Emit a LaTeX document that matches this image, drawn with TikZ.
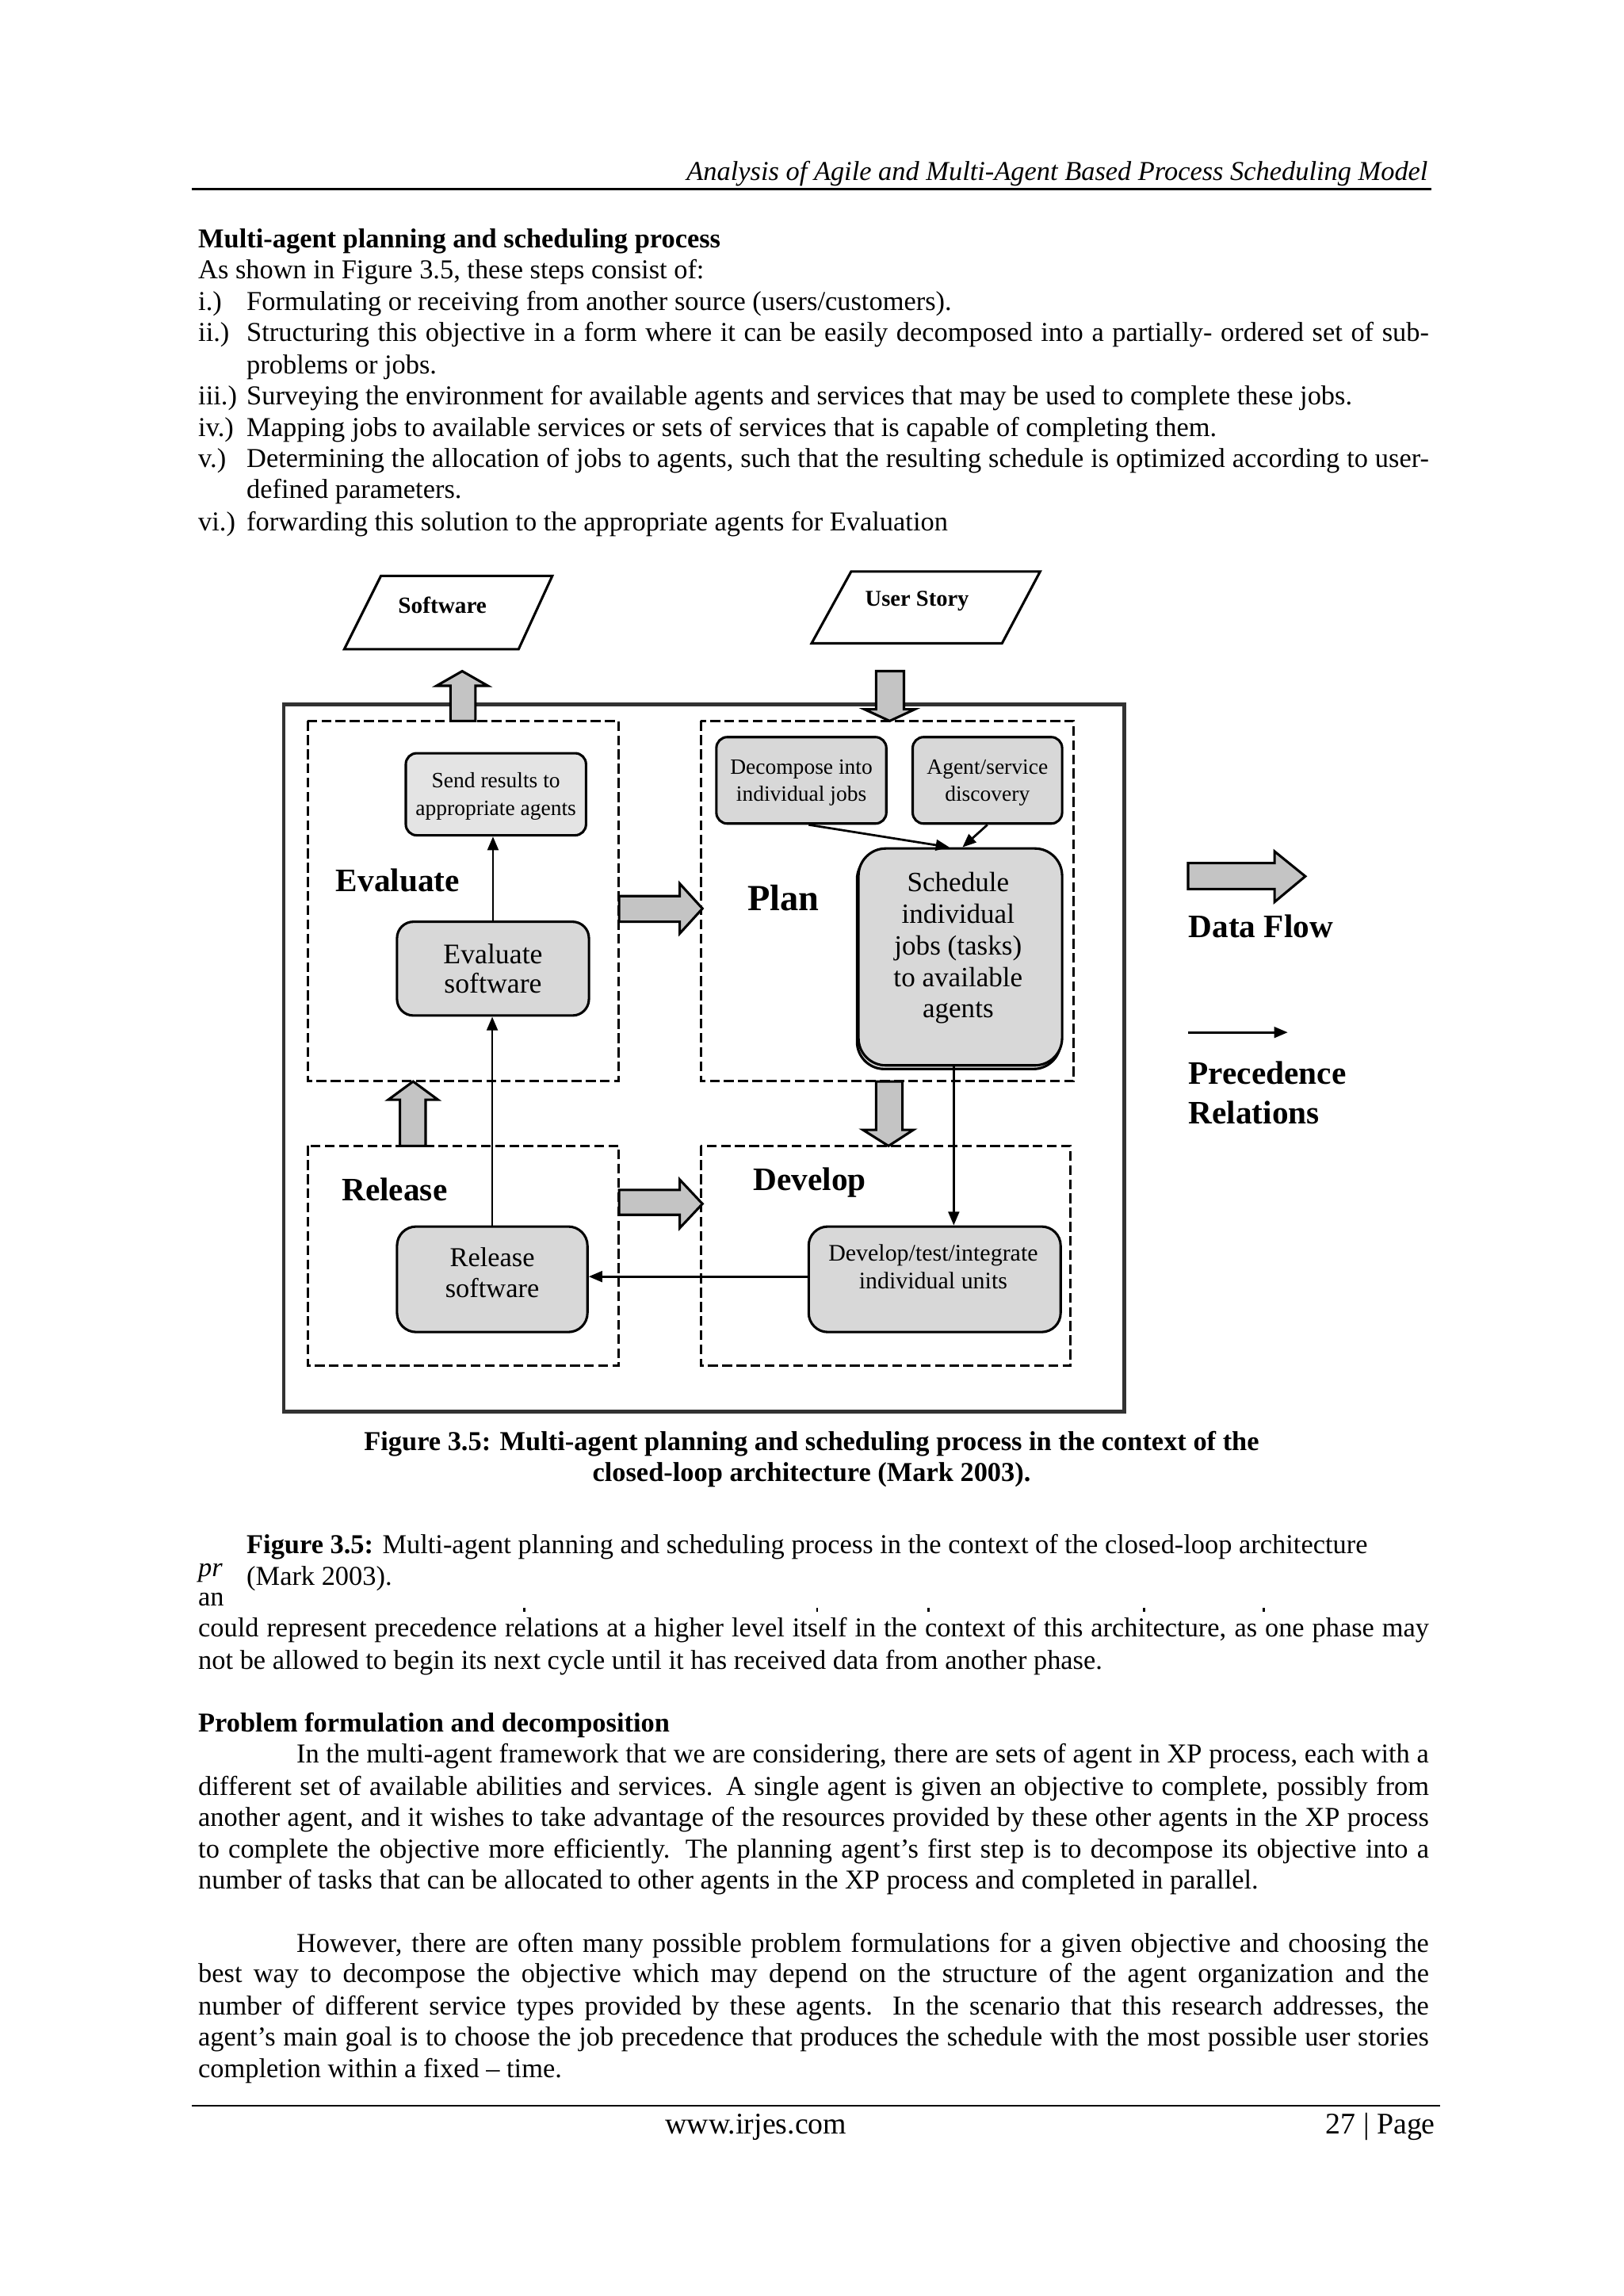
\documentclass[tikz,border=0pt]{standalone}
\usepackage{fontspec}
\setmainfont{Liberation Serif}
\usetikzlibrary{arrows.meta}
\newlength\pxu \setlength\pxu{0.5373pt}
\newcommand\jline[2]{\makebox[#1\pxu][s]{#2}}
\definecolor{boxgray}{RGB}{216,216,216}
\definecolor{boxlight}{RGB}{228,228,228}
\definecolor{arrgray}{RGB}{196,196,196}
\definecolor{framegray}{RGB}{50,50,50}
\begin{document}
\begin{tikzpicture}[x=0.5373pt,y=-0.5373pt,
  txt/.style={anchor=base west,inner sep=0pt,font=\fontsize{10}{11.5}\selectfont},
  txtb/.style={txt,font=\bfseries\fontsize{10}{11.5}\selectfont},
  pbox/.style={draw=black,line width=0.9pt,fill=boxgray,rounded corners=4pt,inner sep=0pt},
  dbox/.style={draw=black,line width=0.9pt,dash pattern=on 3.6pt off 1.6pt},
  barrow/.style={draw=black,line width=0.9pt,fill=arrgray,line join=miter},
  prec/.style={line width=0.8pt,-{Triangle[length=5pt,width=4pt]}},
  phase/.style={anchor=west,inner sep=0pt,font=\bfseries\fontsize{12}{14}\selectfont},
  boxtxt/.style={align=center,inner sep=0pt}]
\useasboundingbox[fill=white] (0,0) rectangle (1108,1566.8);

% ---------- header ----------
\node[anchor=base east,inner sep=0pt,font=\itshape\fontsize{10}{12}\selectfont] (hdr) at (975,123) {Analysis of Agile and Multi-Agent Based Process Scheduling Model};
\draw[line width=0.8pt] (131,129) -- (977,129);

% ---------- list ----------
\node[txtb] (t0) at (135,169) {Multi-agent planning and scheduling process};
\node[txt] (t1) at (135,190) {As shown in Figure 3.5, these steps consist of:};
\node[txt] (n1) at (135,212) {i.)};
\node[txt] (s1) at (168,212) {Formulating or receiving from another source (users/customers).};
\node[txt] (n2) at (135,233) {ii.)};
\node[txt] (s2) at (168,233) {\jline{807}{Structuring this objective in a form where it can be easily decomposed into a partially- ordered set of sub-}};
\node[txt] (s2b) at (168,255) {problems or jobs.};
\node[txt] (n3) at (135,276) {iii.)};
\node[txt] (s3) at (168,276) {Surveying the environment for available agents and services that may be used to complete these jobs.};
\node[txt] (n4) at (135,298) {iv.)};
\node[txt] (s4) at (168,298) {Mapping jobs to available services or sets of services that is capable of completing them.};
\node[txt] (n5) at (135,319) {v.)};
\node[txt] (s5) at (168,319) {\jline{807}{Determining the allocation of jobs to agents, such that the resulting schedule is optimized according to user-}};
\node[txt] (s5b) at (168,340) {defined parameters.};
\node[txt] (n6) at (135,362) {vi.)};
\node[txt] (s6) at (168,362) {forwarding this solution to the appropriate agents for Evaluation};

% ---------- diagram ----------
% inputs / outputs
\draw[line width=0.9pt] (260,393) -- (377,393) -- (354,443) -- (235,443) -- cycle;
\node[font=\bfseries\fontsize{8.5}{10}\selectfont,inner sep=0pt] (sw) at (302,413) {Software};
\draw[line width=0.9pt] (581,390) -- (710,390) -- (684,439) -- (554,439) -- cycle;
\node[font=\bfseries\fontsize{8.3}{10}\selectfont,inner sep=0pt] (us) at (626,410) {User Story};

% main frame
\draw[line width=1.4pt,draw=framegray] (193.7,480.6) rectangle (767.5,963.5);

% phase regions
\draw[dbox] (210,492) rectangle (422.5,737.6);
\draw[dbox] (478.5,492) rectangle (733,737.6);
\draw[dbox] (210,782) rectangle (422.5,932);
\draw[dbox] (478.5,782) rectangle (730.6,932);

\node[phase] (levaluate) at (229,601) {Evaluate};
\node[phase,font=\bfseries\fontsize{13.5}{15}\selectfont] (lplan) at (510,613) {Plan};
\node[phase] (lrelease) at (233,812) {Release};
\node[phase] (ldevelop) at (514,807) {Develop};

% process boxes
\node[pbox,fill=boxlight,minimum width=123\pxu,minimum height=56\pxu] (send) at (338.5,542) {};
\node[boxtxt,font=\fontsize{8}{10}\selectfont] (sendt) at (338.5,543.5) {Send results to\\appropriate agents};

\node[pbox,rounded corners=6pt,minimum width=131\pxu,minimum height=64\pxu] (evalsw) at (336.5,661) {};
\node[boxtxt,font=\fontsize{10.4}{11}\selectfont] (evalswt) at (336.5,661) {Evaluate\\software};

\node[pbox,minimum width=116\pxu,minimum height=59\pxu] (decomp) at (547,532.5) {};
\node[boxtxt,font=\fontsize{8}{9.8}\selectfont] (decompt) at (547,534) {Decompose into\\individual jobs};

\node[pbox,minimum width=102\pxu,minimum height=59\pxu] (agsvc) at (674,532.5) {};
\node[boxtxt,font=\fontsize{8}{9.8}\selectfont] (agsvct) at (674,534) {Agent/service\\discovery};

\draw[line width=0.9pt,fill=boxgray,rounded corners=10pt] (585,581.5) rectangle (724,729.5);
\node[pbox,rounded corners=10pt,minimum width=139\pxu,minimum height=148\pxu] (sched) at (655.5,653) {};
\node[boxtxt,font=\fontsize{10.2}{11.55}\selectfont] (schedt) at (654,647) {Schedule\\individual\\jobs (tasks)\\to available\\agents};

\node[pbox,rounded corners=7pt,minimum width=130\pxu,minimum height=72\pxu] (relsw) at (336,873) {};
\node[boxtxt,font=\fontsize{10}{11.3}\selectfont] (relswt) at (336,868.5) {Release\\software};

\node[pbox,rounded corners=7pt,minimum width=172\pxu,minimum height=72\pxu] (dev) at (638,873) {};
\node[boxtxt,font=\fontsize{8.7}{10.2}\selectfont] (devt) at (637,864.5) {Develop/test/integrate\\individual units};

% precedence relations
\draw[prec] (evalsw.north) -- (evalsw.north |- send.south);
\draw[prec] (relsw.north) -- (relsw.north |- evalsw.south);
\draw[prec] ([yshift=1pt]dev.west) -- ([yshift=1pt]dev.west -| relsw.east);
\draw[prec] ([xshift=-2.4pt]sched.south) -- ([xshift=-2.4pt]sched.south |- dev.north);
\draw[prec] ([xshift=2.7pt]decomp.south) -- ([xshift=-4pt]sched.north);
\draw[prec] (agsvc.south) -- ([xshift=0.8pt]sched.north);

% data flow arrows
\draw[barrow] (307.5,492) -- (307.5,468) -- (298,468) -- (315.5,458) -- (333,468) -- (324.5,468) -- (324.5,492) -- cycle;
\draw[barrow] (598,458) -- (617,458) -- (617,484) -- (624.5,484) -- (607.3,492) -- (590,484) -- (598,484) -- cycle;
\draw[barrow] (422.6,611.5) -- (464,611.5) -- (464,603) -- (479.5,620) -- (464,637) -- (464,629) -- (422.6,629) -- cycle;
\draw[barrow] (273,782) -- (273,750.5) -- (265,750.5) -- (282,738) -- (299,750.5) -- (290.5,750.5) -- (290.5,782) -- cycle;
\draw[barrow] (598,738) -- (616,738) -- (616,771) -- (623.5,771) -- (606.5,782) -- (589,771) -- (598,771) -- cycle;
\draw[barrow] (422.6,812) -- (464,812) -- (464,805) -- (479.5,821.5) -- (464,838) -- (464,829) -- (422.6,829) -- cycle;

% legend
\draw[barrow] (811,589) -- (870,589) -- (870,581) -- (891,598) -- (870,615.5) -- (870,606.7) -- (811,606.7) -- cycle;
\node[phase] (ldf) at (811,632) {Data Flow};
\coordinate (pa) at (811,704.5);
\coordinate (pb) at (879,704.5);
\draw[prec] (pa) -- (pb);
\node[anchor=north west,inner sep=0pt,align=left,font=\bfseries\fontsize{12}{14.5}\selectfont] (lpr) at (811,724) {Precedence\\Relations};

% ---------- captions ----------
\node[anchor=base,inner sep=0pt,font=\bfseries\fontsize{10}{11.5}\selectfont] (cap1) at (554,990) {Figure 3.5: Multi-agent planning and scheduling process in the context of the};
\node[anchor=base,inner sep=0pt,font=\bfseries\fontsize{10}{11.5}\selectfont] (cap2) at (554,1011) {closed-loop architecture (Mark 2003).};

\node[txt] (c2a) at (168,1060) {\textbf{Figure 3.5:} Multi-agent planning and scheduling process in the context of the closed-loop architecture};
\node[txt] (c2b) at (168,1082) {(Mark 2003).};
\node[txt,font=\itshape\fontsize{10}{11.5}\selectfont] (frag1) at (135,1076) {pr};
\node[txt] (frag2) at (135,1096) {an};
\foreach \sx in {357,557,633,780,862} \fill (\sx,1097) rectangle ++(1.5,3);

\node[txt] (p0a) at (135,1117) {\jline{840}{could represent precedence relations at a higher level itself in the context of this architecture, as one phase may}};
\node[txt] (p0b) at (135,1139) {not be allowed to begin its next cycle until it has received data from another phase.};

\node[txtb] (h2) at (135,1182) {Problem formulation and decomposition};
\node[txt] (p1a) at (202,1203) {\jline{773}{In the multi-agent framework that we are considering, there are sets of agent in XP process, each with a}};
\node[txt] (p1b) at (135,1225) {\jline{840}{different set of available abilities and services. A single agent is given an objective to complete, possibly from}};
\node[txt] (p1c) at (135,1246) {\jline{840}{another agent, and it wishes to take advantage of the resources provided by these other agents in the XP process}};
\node[txt] (p1d) at (135,1268) {\jline{840}{to complete the objective more efficiently. The planning agent’s first step is to decompose its objective into a}};
\node[txt] (p1e) at (135,1289) {number of tasks that can be allocated to other agents in the XP process and completed in parallel.};

\node[txt] (p2a) at (202,1332) {\jline{773}{However, there are often many possible problem formulations for a given objective and choosing the}};
\node[txt] (p2b) at (135,1353) {\jline{840}{best way to decompose the objective which may depend on the structure of the agent organization and the}};
\node[txt] (p2c) at (135,1375) {\jline{840}{number of different service types provided by these agents. In the scenario that this research addresses, the}};
\node[txt] (p2d) at (135,1396) {\jline{840}{agent’s main goal is to choose the job precedence that produces the schedule with the most possible user stories}};
\node[txt] (p2e) at (135,1418) {completion within a fixed – time.};

% ---------- footer ----------
\draw[line width=0.8pt] (131,1437) -- (983,1437);
\node[anchor=base,inner sep=0pt,font=\fontsize{11}{13}\selectfont] (web) at (516,1456) {www.irjes.com};
\node[anchor=base east,inner sep=0pt,font=\fontsize{11}{13}\selectfont] (pg) at (980,1456) {27 | Page};
\end{tikzpicture}
\end{document}
